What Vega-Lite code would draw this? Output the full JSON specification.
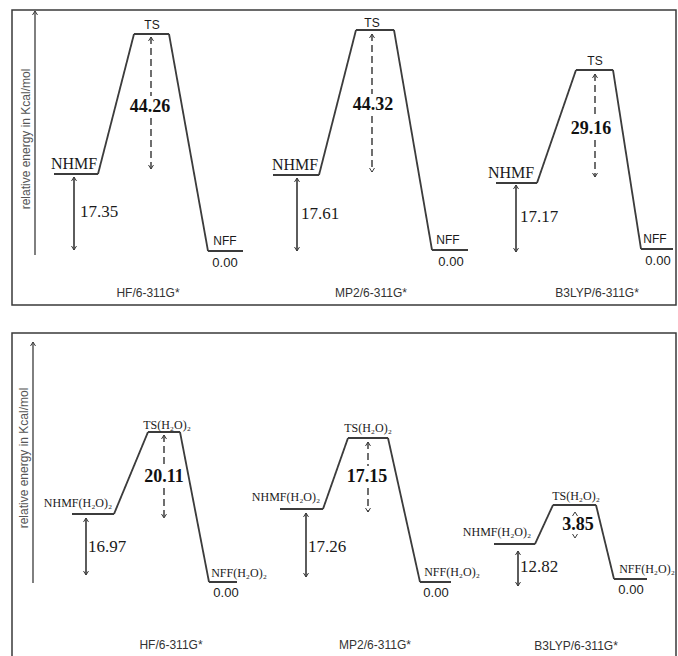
{
  "$schema": "https://vega.github.io/schema/vega-lite/v6.json",
  "background": "white",
  "padding": {"left": 11, "top": 8, "right": 0, "bottom": 0},
  "spacing": 26,
  "config": {"view": {"stroke": "#3a3a3a", "strokeWidth": 1.5}},
  "datasets": {
    "topLines": [
      {"x": 42, "y": 131, "x2": 86, "y2": 131, "kind": "level"},
      {"x": 86, "y": 131, "x2": 122, "y2": 271, "kind": "connector"},
      {"x": 122, "y": 271, "x2": 157, "y2": 271, "kind": "level"},
      {"x": 157, "y": 271, "x2": 196, "y2": 54, "kind": "connector"},
      {"x": 196, "y": 54, "x2": 231, "y2": 54, "kind": "level"},
      {"x": 62, "y": 128, "x2": 62, "y2": 55, "kind": "gap"},
      {"x": 139, "y": 268, "x2": 139, "y2": 209, "kind": "barrier"},
      {"x": 139, "y": 187, "x2": 139, "y2": 136, "kind": "barrier"},
      {"x": 261, "y": 130, "x2": 307, "y2": 130, "kind": "level"},
      {"x": 307, "y": 130, "x2": 344, "y2": 275, "kind": "connector"},
      {"x": 344, "y": 275, "x2": 382, "y2": 275, "kind": "level"},
      {"x": 382, "y": 275, "x2": 420, "y2": 55, "kind": "connector"},
      {"x": 420, "y": 55, "x2": 456, "y2": 55, "kind": "level"},
      {"x": 285, "y": 127, "x2": 285, "y2": 54, "kind": "gap"},
      {"x": 360, "y": 271, "x2": 360, "y2": 211, "kind": "barrier"},
      {"x": 360, "y": 189, "x2": 360, "y2": 133, "kind": "barrier"},
      {"x": 484, "y": 122, "x2": 525, "y2": 122, "kind": "level"},
      {"x": 525, "y": 122, "x2": 564, "y2": 235, "kind": "connector"},
      {"x": 564, "y": 235, "x2": 601, "y2": 235, "kind": "level"},
      {"x": 601, "y": 235, "x2": 629, "y2": 56, "kind": "connector"},
      {"x": 629, "y": 56, "x2": 661, "y2": 56, "kind": "level"},
      {"x": 504, "y": 120, "x2": 504, "y2": 53, "kind": "gap"},
      {"x": 583, "y": 231, "x2": 583, "y2": 187, "kind": "barrier"},
      {"x": 583, "y": 165, "x2": 583, "y2": 128, "kind": "barrier"},
      {"x": 23, "y": 294, "x2": 23, "y2": 50, "kind": "axis"}
    ],
    "topHeads": [
      {"x": 62, "y": 128, "dir": "up"}, {"x": 62, "y": 55, "dir": "down"},
      {"x": 139, "y": 268, "dir": "up"}, {"x": 139, "y": 136, "dir": "down"},
      {"x": 285, "y": 127, "dir": "up"}, {"x": 285, "y": 54, "dir": "down"},
      {"x": 360, "y": 271, "dir": "up"}, {"x": 360, "y": 133, "dir": "down"},
      {"x": 504, "y": 120, "dir": "up"}, {"x": 504, "y": 53, "dir": "down"},
      {"x": 583, "y": 231, "dir": "up"}, {"x": 583, "y": 128, "dir": "down"},
      {"x": 23, "y": 294, "dir": "up"}
    ],
    "topText": [
      {"x": 62, "y": 141, "text": "NHMF", "role": "species"},
      {"x": 140, "y": 280, "text": "TS", "role": "speciesSans"},
      {"x": 213, "y": 64, "text": "NFF", "role": "speciesSans"},
      {"x": 213, "y": 42, "text": "0.00", "role": "zero"},
      {"x": 87, "y": 93, "text": "17.35", "role": "gap"},
      {"x": 138, "y": 198, "text": "44.26", "role": "barrier"},
      {"x": 136, "y": 12, "text": "HF/6-311G*", "role": "method"},
      {"x": 283, "y": 140, "text": "NHMF", "role": "species"},
      {"x": 360, "y": 282, "text": "TS", "role": "speciesSans"},
      {"x": 436, "y": 65, "text": "NFF", "role": "speciesSans"},
      {"x": 439, "y": 43, "text": "0.00", "role": "zero"},
      {"x": 308, "y": 91, "text": "17.61", "role": "gap"},
      {"x": 361, "y": 200, "text": "44.32", "role": "barrier"},
      {"x": 359, "y": 12, "text": "MP2/6-311G*", "role": "method"},
      {"x": 499, "y": 132, "text": "NHMF", "role": "species"},
      {"x": 583, "y": 244, "text": "TS", "role": "speciesSans"},
      {"x": 643, "y": 66, "text": "NFF", "role": "speciesSans"},
      {"x": 646, "y": 44, "text": "0.00", "role": "zero"},
      {"x": 527, "y": 88, "text": "17.17", "role": "gap"},
      {"x": 579, "y": 176, "text": "29.16", "role": "barrier"},
      {"x": 585, "y": 12, "text": "B3LYP/6-311G*", "role": "method"},
      {"x": 14, "y": 166, "text": "relative energy in Kcal/mol", "role": "axis"}
    ],
    "botLines": [
      {"x": 60, "y": 147, "x2": 102, "y2": 147, "kind": "level"},
      {"x": 102, "y": 147, "x2": 136, "y2": 229, "kind": "connector"},
      {"x": 136, "y": 229, "x2": 168, "y2": 229, "kind": "level"},
      {"x": 168, "y": 229, "x2": 197, "y2": 79, "kind": "connector"},
      {"x": 197, "y": 79, "x2": 225, "y2": 79, "kind": "level"},
      {"x": 74, "y": 143, "x2": 74, "y2": 86, "kind": "gap"},
      {"x": 152, "y": 226, "x2": 152, "y2": 195, "kind": "barrier"},
      {"x": 152, "y": 173, "x2": 152, "y2": 143, "kind": "barrier"},
      {"x": 268, "y": 152, "x2": 311, "y2": 152, "kind": "level"},
      {"x": 311, "y": 152, "x2": 336, "y2": 223, "kind": "connector"},
      {"x": 336, "y": 223, "x2": 376, "y2": 223, "kind": "level"},
      {"x": 376, "y": 223, "x2": 408, "y2": 79, "kind": "connector"},
      {"x": 408, "y": 79, "x2": 439, "y2": 79, "kind": "level"},
      {"x": 294, "y": 148, "x2": 294, "y2": 84, "kind": "gap"},
      {"x": 356, "y": 219, "x2": 356, "y2": 195, "kind": "barrier"},
      {"x": 356, "y": 173, "x2": 356, "y2": 149, "kind": "barrier"},
      {"x": 482, "y": 117, "x2": 523, "y2": 117, "kind": "level"},
      {"x": 523, "y": 117, "x2": 541, "y2": 156, "kind": "connector"},
      {"x": 541, "y": 156, "x2": 584, "y2": 156, "kind": "level"},
      {"x": 584, "y": 156, "x2": 602, "y2": 82, "kind": "connector"},
      {"x": 602, "y": 82, "x2": 635, "y2": 82, "kind": "level"},
      {"x": 506, "y": 110, "x2": 506, "y2": 75, "kind": "gap"},
      {"x": 21, "y": 319, "x2": 21, "y2": 78, "kind": "axis"}
    ],
    "botHeads": [
      {"x": 74, "y": 143, "dir": "up"}, {"x": 74, "y": 86, "dir": "down"},
      {"x": 152, "y": 226, "dir": "up"}, {"x": 152, "y": 143, "dir": "down"},
      {"x": 294, "y": 148, "dir": "up"}, {"x": 294, "y": 84, "dir": "down"},
      {"x": 356, "y": 219, "dir": "up"}, {"x": 356, "y": 149, "dir": "down"},
      {"x": 506, "y": 110, "dir": "up"}, {"x": 506, "y": 75, "dir": "down"},
      {"x": 563, "y": 149, "dir": "up"}, {"x": 563, "y": 123, "dir": "down"},
      {"x": 21, "y": 319, "dir": "up"}
    ],
    "botText": [
      {"x": 66, "y": 158, "text": "NHMF(H₂O)₂", "role": "speciesH"},
      {"x": 155, "y": 236, "text": "TS(H₂O)₂", "role": "speciesH"},
      {"x": 227, "y": 88, "text": "NFF(H₂O)₂", "role": "speciesH"},
      {"x": 214, "y": 68, "text": "0.00", "role": "zero"},
      {"x": 95, "y": 114, "text": "16.97", "role": "gap"},
      {"x": 152, "y": 184, "text": "20.11", "role": "barrier"},
      {"x": 159, "y": 16, "text": "HF/6-311G*", "role": "method"},
      {"x": 274, "y": 164, "text": "NHMF(H₂O)₂", "role": "speciesH"},
      {"x": 356, "y": 233, "text": "TS(H₂O)₂", "role": "speciesH"},
      {"x": 440, "y": 89, "text": "NFF(H₂O)₂", "role": "speciesH"},
      {"x": 424, "y": 68, "text": "0.00", "role": "zero"},
      {"x": 315, "y": 114, "text": "17.26", "role": "gap"},
      {"x": 355, "y": 184, "text": "17.15", "role": "barrier"},
      {"x": 363, "y": 16, "text": "MP2/6-311G*", "role": "method"},
      {"x": 485, "y": 129, "text": "NHMF(H₂O)₂", "role": "speciesH"},
      {"x": 564, "y": 165, "text": "TS(H₂O)₂", "role": "speciesH"},
      {"x": 635, "y": 92, "text": "NFF(H₂O)₂", "role": "speciesH"},
      {"x": 619, "y": 71, "text": "0.00", "role": "zero"},
      {"x": 527, "y": 94, "text": "12.82", "role": "gap"},
      {"x": 566, "y": 136, "text": "3.85", "role": "barrier"},
      {"x": 564, "y": 15, "text": "B3LYP/6-311G*", "role": "method"},
      {"x": 12, "y": 203, "text": "relative energy in Kcal/mol", "role": "axis"}
    ]
  },
  "vconcat": [
    {
      "width": 664,
      "height": 295,
      "encoding": {
        "x": {"field": "x", "type": "quantitative", "scale": {"domain": [0, 664], "nice": false, "zero": false}, "axis": null},
        "y": {"field": "y", "type": "quantitative", "scale": {"domain": [0, 295], "nice": false, "zero": false}, "axis": null}
      },
      "layer": [
        {
          "data": {"name": "topLines"},
          "mark": {"type": "rule", "color": "#3c3c3c"},
          "encoding": {
            "x2": {"field": "x2"},
            "y2": {"field": "y2"},
            "strokeDash": {"field": "kind", "type": "nominal", "scale": {"domain": ["level", "connector", "gap", "barrier", "axis"], "range": [[1, 0], [1, 0], [1, 0], [7, 4], [1, 0]]}, "legend": null},
            "strokeWidth": {"field": "kind", "type": "nominal", "scale": {"domain": ["level", "connector", "gap", "barrier", "axis"], "range": [2, 1.3, 1, 1, 1]}, "legend": null}
          }
        },
        {
          "data": {"name": "topHeads"},
          "mark": {"type": "point", "filled": false, "color": "#3c3c3c", "strokeWidth": 1, "size": 25, "opacity": 1},
          "encoding": {
            "shape": {"field": "dir", "type": "nominal", "scale": {"domain": ["up", "down"], "range": ["M-1,1.6L0,0L1,1.6", "M-1,-1.6L0,0L1,-1.6"]}, "legend": null}
          }
        },
        {
          "data": {"name": "topText"},
          "transform": [{"filter": "datum.role == 'species'"}],
          "mark": {"type": "text", "font": "Liberation Serif", "fontSize": 16, "color": "#1a1a1a", "baseline": "middle"},
          "encoding": {"text": {"field": "text"}}
        },
        {
          "data": {"name": "topText"},
          "transform": [{"filter": "datum.role == 'speciesSans'"}],
          "mark": {"type": "text", "font": "Liberation Sans", "fontSize": 12, "color": "#1a1a1a", "baseline": "middle"},
          "encoding": {"text": {"field": "text"}}
        },
        {
          "data": {"name": "topText"},
          "transform": [{"filter": "datum.role == 'gap'"}],
          "mark": {"type": "text", "font": "Liberation Serif", "fontSize": 17, "color": "#1a1a1a", "baseline": "middle"},
          "encoding": {"text": {"field": "text"}}
        },
        {
          "data": {"name": "topText"},
          "transform": [{"filter": "datum.role == 'barrier'"}],
          "mark": {"type": "text", "font": "Liberation Serif", "fontSize": 18, "fontWeight": "bold", "color": "#111111", "baseline": "middle"},
          "encoding": {"text": {"field": "text"}}
        },
        {
          "data": {"name": "topText"},
          "transform": [{"filter": "datum.role == 'zero'"}],
          "mark": {"type": "text", "font": "Liberation Sans", "fontSize": 13, "color": "#1a1a1a", "baseline": "middle"},
          "encoding": {"text": {"field": "text"}}
        },
        {
          "data": {"name": "topText"},
          "transform": [{"filter": "datum.role == 'method'"}],
          "mark": {"type": "text", "font": "Liberation Sans", "fontSize": 12, "color": "#333333", "baseline": "middle"},
          "encoding": {"text": {"field": "text"}}
        },
        {
          "data": {"name": "topText"},
          "transform": [{"filter": "datum.role == 'axis'"}],
          "mark": {"type": "text", "font": "Liberation Sans", "fontSize": 12, "color": "#555555", "baseline": "middle", "angle": 270},
          "encoding": {"text": {"field": "text"}}
        }
      ]
    },
    {
      "width": 664,
      "height": 328,
      "encoding": {
        "x": {"field": "x", "type": "quantitative", "scale": {"domain": [0, 664], "nice": false, "zero": false}, "axis": null},
        "y": {"field": "y", "type": "quantitative", "scale": {"domain": [0, 328], "nice": false, "zero": false}, "axis": null}
      },
      "layer": [
        {
          "data": {"name": "botLines"},
          "mark": {"type": "rule", "color": "#3c3c3c"},
          "encoding": {
            "x2": {"field": "x2"},
            "y2": {"field": "y2"},
            "strokeDash": {"field": "kind", "type": "nominal", "scale": {"domain": ["level", "connector", "gap", "barrier", "axis"], "range": [[1, 0], [1, 0], [1, 0], [7, 4], [1, 0]]}, "legend": null},
            "strokeWidth": {"field": "kind", "type": "nominal", "scale": {"domain": ["level", "connector", "gap", "barrier", "axis"], "range": [2, 1.3, 1, 1, 1]}, "legend": null}
          }
        },
        {
          "data": {"name": "botHeads"},
          "mark": {"type": "point", "filled": false, "color": "#3c3c3c", "strokeWidth": 1, "size": 25, "opacity": 1},
          "encoding": {
            "shape": {"field": "dir", "type": "nominal", "scale": {"domain": ["up", "down"], "range": ["M-1,1.6L0,0L1,1.6", "M-1,-1.6L0,0L1,-1.6"]}, "legend": null}
          }
        },
        {
          "data": {"name": "botText"},
          "transform": [{"filter": "datum.role == 'speciesH'"}],
          "mark": {"type": "text", "font": "Liberation Serif", "fontSize": 12, "color": "#1a1a1a", "baseline": "middle"},
          "encoding": {"text": {"field": "text"}}
        },
        {
          "data": {"name": "botText"},
          "transform": [{"filter": "datum.role == 'gap'"}],
          "mark": {"type": "text", "font": "Liberation Serif", "fontSize": 17, "color": "#1a1a1a", "baseline": "middle"},
          "encoding": {"text": {"field": "text"}}
        },
        {
          "data": {"name": "botText"},
          "transform": [{"filter": "datum.role == 'barrier'"}],
          "mark": {"type": "text", "font": "Liberation Serif", "fontSize": 18, "fontWeight": "bold", "color": "#111111", "baseline": "middle"},
          "encoding": {"text": {"field": "text"}}
        },
        {
          "data": {"name": "botText"},
          "transform": [{"filter": "datum.role == 'zero'"}],
          "mark": {"type": "text", "font": "Liberation Sans", "fontSize": 13, "color": "#1a1a1a", "baseline": "middle"},
          "encoding": {"text": {"field": "text"}}
        },
        {
          "data": {"name": "botText"},
          "transform": [{"filter": "datum.role == 'method'"}],
          "mark": {"type": "text", "font": "Liberation Sans", "fontSize": 12, "color": "#333333", "baseline": "middle"},
          "encoding": {"text": {"field": "text"}}
        },
        {
          "data": {"name": "botText"},
          "transform": [{"filter": "datum.role == 'axis'"}],
          "mark": {"type": "text", "font": "Liberation Sans", "fontSize": 12, "color": "#555555", "baseline": "middle", "angle": 270},
          "encoding": {"text": {"field": "text"}}
        }
      ]
    }
  ]
}
